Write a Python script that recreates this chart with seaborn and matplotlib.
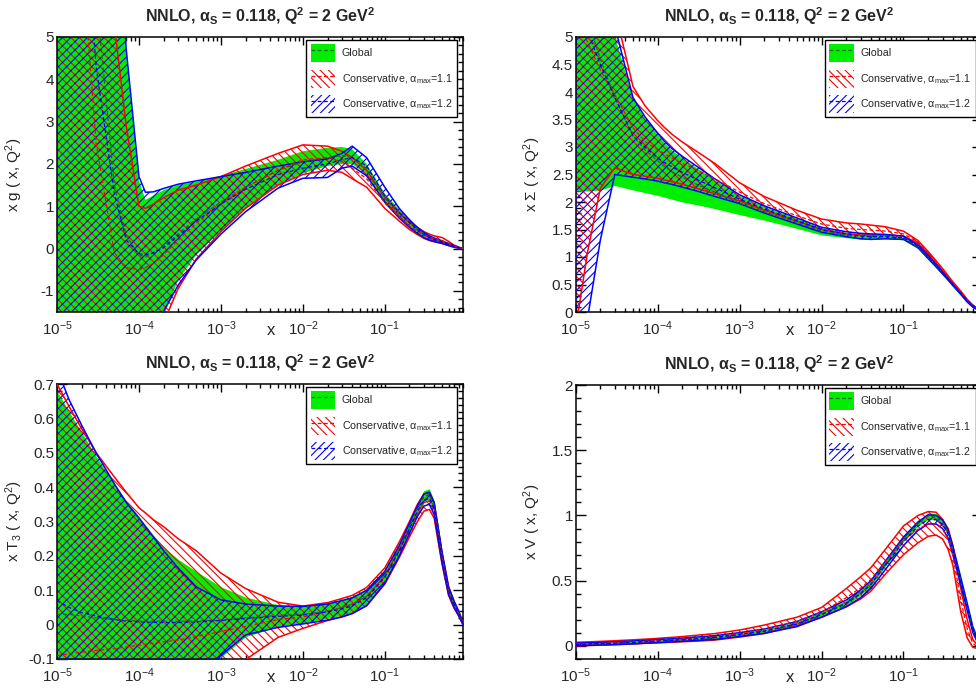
import matplotlib
matplotlib.use("Agg")
import matplotlib.pyplot as plt
import matplotlib.patches as mpatches
from matplotlib.lines import Line2D
from matplotlib.ticker import LogLocator, MultipleLocator, NullFormatter, FuncFormatter
import numpy as np
import seaborn as sns

# x grid shared by all panels
x = [1e-5, 1.4e-5, 2e-5, 3e-5, 5e-5, 7e-5, 1e-4, 1.2e-4, 1.5e-4, 2e-4, 3e-4, 5e-4,
     1e-3, 2e-3, 5e-3, 1e-2, 2e-2, 3e-2, 4e-2, 6e-2, 0.1, 0.15, 0.2, 0.25, 0.3,
     0.35, 0.4, 0.5, 0.6, 0.7, 0.8, 0.9]

# gluon
g_glob_up = [40, 35, 28, 18, 9.0, 4.6, 1.6, 1.15, 1.25, 1.38, 1.5, 1.58, 1.72, 1.88, 2.1, 2.3,
             2.38, 2.4, 2.35, 2.0, 1.3, 0.92, 0.7, 0.5, 0.38, 0.3, 0.25, 0.19, 0.13, 0.07, 0.03, 0.0]
g_glob_lo = [-20, -20, -20, -20, -15, -10, -6, -4.5, -3, -1.6, -0.75, -0.15, 0.42, 0.95, 1.5, 1.78,
             1.95, 2.0, 2.0, 1.75, 1.05, 0.72, 0.52, 0.38, 0.28, 0.22, 0.18, 0.13, 0.08, 0.04, 0.01, 0.0]
g_glob_c = [25, 18, 12, 6, 1.5, 0.3, -0.15, -0.2, -0.1, 0.05, 0.35, 0.7, 1.1, 1.45, 1.85, 2.05,
            2.15, 2.2, 2.15, 1.88, 1.18, 0.82, 0.61, 0.44, 0.33, 0.26, 0.21, 0.16, 0.1, 0.055, 0.02, 0.0]
g_red_up = [40, 30, 20, 12, 5.3, 2.9, 1.0, 0.95, 1.05, 1.2, 1.38, 1.5, 1.7, 1.95, 2.25, 2.45,
            2.42, 2.3, 2.15, 1.85, 1.2, 0.85, 0.62, 0.5, 0.4, 0.34, 0.3, 0.26, 0.17, 0.08, 0.03, 0.0]
g_red_lo = [-20, -20, -20, -20, -15, -10, -6, -4.5, -3, -1.75, -0.95, -0.25, 0.4, 0.95, 1.5, 1.75,
            1.85, 1.8, 1.65, 1.45, 0.95, 0.65, 0.45, 0.33, 0.24, 0.19, 0.16, 0.12, 0.07, 0.03, 0.01, 0.0]
g_red_c = [30, 15, 7, 2.5, -0.1, -0.45, -0.5, -0.45, -0.35, -0.15, 0.2, 0.6, 1.05, 1.45, 1.85, 2.1,
           2.15, 2.05, 1.9, 1.65, 1.08, 0.75, 0.53, 0.41, 0.31, 0.26, 0.23, 0.19, 0.12, 0.055, 0.02, 0.0]
g_blue_up = [40, 35, 28, 18, 9.0, 4.7, 1.7, 1.33, 1.34, 1.42, 1.52, 1.6, 1.7, 1.8, 1.95, 2.05,
             2.12, 2.25, 2.42, 2.15, 1.45, 0.95, 0.68, 0.5, 0.38, 0.3, 0.25, 0.18, 0.12, 0.07, 0.03, 0.0]
g_blue_lo = [-20, -20, -20, -20, -15, -10, -6, -4.5, -2.2, -1.48, -0.87, -0.27, 0.34, 0.87, 1.43, 1.66,
             1.68, 1.9, 1.95, 1.72, 1.1, 0.72, 0.5, 0.36, 0.26, 0.2, 0.17, 0.12, 0.07, 0.035, 0.01, 0.0]
g_blue_c = [30, 15, 9, 4.3, 1.3, 0.2, -0.12, -0.15, -0.1, 0.02, 0.3, 0.65, 1.05, 1.4, 1.75, 1.9,
            2.0, 2.1, 2.15, 1.95, 1.25, 0.85, 0.62, 0.45, 0.33, 0.26, 0.21, 0.15, 0.1, 0.055, 0.02, 0.0]

# singlet
s_glob_up = [9, 8, 7, 5.0, 3.88, 3.52, 3.22, 3.08, 2.94, 2.8, 2.62, 2.4, 2.12, 1.92, 1.7, 1.53,
             1.45, 1.42, 1.41, 1.4, 1.36, 1.2, 1.02, 0.86, 0.72, 0.6, 0.5, 0.34, 0.2, 0.11, 0.05, 0.02]
s_glob_lo = [2.2, 2.2, 2.22, 2.3, 2.22, 2.17, 2.12, 2.09, 2.05, 2.0, 1.95, 1.88, 1.77, 1.67, 1.52, 1.4,
             1.35, 1.33, 1.33, 1.34, 1.31, 1.15, 0.96, 0.81, 0.68, 0.57, 0.47, 0.31, 0.18, 0.09, 0.04, 0.01]
s_glob_c = [6, 5.3, 4.6, 3.9, 3.2, 2.95, 2.75, 2.65, 2.55, 2.45, 2.32, 2.18, 1.98, 1.82, 1.63, 1.48,
            1.4, 1.38, 1.37, 1.37, 1.34, 1.18, 0.99, 0.84, 0.7, 0.59, 0.49, 0.33, 0.19, 0.1, 0.045, 0.015]
s_red_up = [9, 8.5, 7.5, 5.5, 4.1, 3.75, 3.48, 3.36, 3.23, 3.09, 2.92, 2.7, 2.35, 2.1, 1.85, 1.69,
            1.62, 1.6, 1.58, 1.55, 1.47, 1.3, 1.1, 0.93, 0.79, 0.66, 0.55, 0.38, 0.23, 0.13, 0.06, 0.02]
s_red_lo = [-0.3, 1.1, 2.25, 2.62, 2.5, 2.47, 2.43, 2.4, 2.37, 2.32, 2.25, 2.15, 2.02, 1.85, 1.65, 1.5,
            1.42, 1.4, 1.4, 1.4, 1.38, 1.25, 1.05, 0.88, 0.74, 0.62, 0.51, 0.35, 0.2, 0.1, 0.05, 0.01]
s_red_c = [5.5, 4.9, 4.4, 3.95, 3.35, 3.1, 2.95, 2.88, 2.8, 2.7, 2.58, 2.42, 2.18, 1.97, 1.75, 1.6,
           1.52, 1.5, 1.49, 1.47, 1.42, 1.27, 1.08, 0.9, 0.76, 0.64, 0.53, 0.36, 0.21, 0.12, 0.055, 0.015]
s_blue_up = [9, 8.5, 7.5, 5.2, 3.9, 3.55, 3.25, 3.11, 2.97, 2.83, 2.65, 2.42, 2.13, 1.93, 1.71, 1.54,
             1.46, 1.43, 1.42, 1.41, 1.38, 1.22, 1.03, 0.87, 0.74, 0.61, 0.51, 0.35, 0.21, 0.12, 0.055, 0.02]
s_blue_lo = [-2.5, -0.1, 1.31, 2.5, 2.45, 2.42, 2.38, 2.35, 2.32, 2.27, 2.2, 2.1, 1.97, 1.8, 1.6, 1.45,
             1.37, 1.33, 1.32, 1.33, 1.32, 1.17, 0.97, 0.82, 0.69, 0.58, 0.48, 0.32, 0.18, 0.09, 0.04, 0.01]
s_blue_c = [5.8, 5.1, 4.5, 3.9, 3.2, 3.0, 2.8, 2.72, 2.64, 2.54, 2.41, 2.26, 2.05, 1.87, 1.66, 1.5,
            1.42, 1.38, 1.37, 1.37, 1.35, 1.2, 1.0, 0.85, 0.71, 0.6, 0.5, 0.33, 0.19, 0.1, 0.045, 0.015]

# triplet T3
t_glob_up = [0.68, 0.62, 0.56, 0.49, 0.41, 0.36, 0.315, 0.29, 0.26, 0.225, 0.19, 0.155, 0.11, 0.08, 0.058, 0.053,
             0.062, 0.073, 0.082, 0.104, 0.16, 0.235, 0.3, 0.355, 0.39, 0.395, 0.36, 0.21, 0.11, 0.07, 0.04, 0.006]
t_glob_lo = [-0.6, -0.55, -0.5, -0.45, -0.4, -0.36, -0.33, -0.31, -0.29, -0.25, -0.21, -0.16, -0.095, -0.035, -0.005, 0.005,
             0.018, 0.028, 0.037, 0.06, 0.125, 0.205, 0.27, 0.32, 0.355, 0.36, 0.325, 0.185, 0.09, 0.052, 0.028, 0.0]
t_glob_c = [0.03, 0.03, 0.025, 0.02, 0.015, 0.013, 0.011, 0.01, 0.01, 0.01, 0.01, 0.011, 0.013, 0.02, 0.027, 0.03,
            0.04, 0.05, 0.06, 0.082, 0.142, 0.22, 0.285, 0.338, 0.372, 0.378, 0.342, 0.198, 0.1, 0.061, 0.034, 0.003]
t_red_up = [0.7, 0.635, 0.57, 0.5, 0.43, 0.385, 0.34, 0.325, 0.305, 0.285, 0.25, 0.215, 0.15, 0.105, 0.065, 0.054,
            0.064, 0.076, 0.085, 0.108, 0.165, 0.24, 0.3, 0.35, 0.38, 0.385, 0.355, 0.21, 0.11, 0.068, 0.038, 0.005]
t_red_lo = [-0.6, -0.55, -0.5, -0.45, -0.4, -0.37, -0.34, -0.32, -0.3, -0.27, -0.24, -0.2, -0.16, -0.102, -0.037, -0.011,
            0.012, 0.024, 0.033, 0.055, 0.118, 0.195, 0.255, 0.3, 0.33, 0.335, 0.31, 0.175, 0.085, 0.048, 0.025, 0.0]
t_red_c = [-0.09, -0.085, -0.08, -0.075, -0.07, -0.065, -0.06, -0.057, -0.054, -0.05, -0.045, -0.035, -0.02, -0.005, 0.015, 0.022,
           0.038, 0.05, 0.059, 0.082, 0.142, 0.218, 0.278, 0.325, 0.355, 0.36, 0.333, 0.193, 0.098, 0.058, 0.032, 0.003]
t_blue_up = [0.745, 0.655, 0.58, 0.5, 0.41, 0.355, 0.31, 0.285, 0.255, 0.215, 0.165, 0.11, 0.072, 0.06, 0.054, 0.053,
             0.06, 0.07, 0.078, 0.1, 0.155, 0.23, 0.295, 0.345, 0.38, 0.385, 0.355, 0.21, 0.11, 0.068, 0.038, 0.005]
t_blue_lo = [-0.6, -0.55, -0.5, -0.45, -0.4, -0.36, -0.33, -0.31, -0.28, -0.24, -0.2, -0.15, -0.09, -0.03, -0.008, 0.002,
             0.013, 0.022, 0.032, 0.055, 0.12, 0.2, 0.265, 0.315, 0.345, 0.35, 0.32, 0.18, 0.088, 0.05, 0.025, 0.0]
t_blue_c = [0.07, 0.05, 0.035, 0.025, 0.015, 0.01, 0.008, 0.007, 0.007, 0.006, 0.006, 0.008, 0.012, 0.018, 0.024, 0.028,
            0.037, 0.046, 0.055, 0.078, 0.138, 0.215, 0.28, 0.33, 0.362, 0.368, 0.338, 0.195, 0.099, 0.059, 0.032, 0.003]

# valence V
v_glob_up = [0.02, 0.022, 0.025, 0.03, 0.036, 0.041, 0.047, 0.05, 0.053, 0.058, 0.066, 0.077, 0.1, 0.128, 0.185, 0.26,
             0.35, 0.43, 0.5, 0.65, 0.84, 0.96, 1.02, 1.015, 0.975, 0.895, 0.765, 0.52, 0.32, 0.145, 0.05, 0.01]
v_glob_lo = [0.004, 0.006, 0.009, 0.012, 0.018, 0.023, 0.027, 0.03, 0.033, 0.038, 0.044, 0.053, 0.076, 0.102, 0.155, 0.23,
             0.31, 0.39, 0.46, 0.61, 0.8, 0.92, 0.97, 0.965, 0.925, 0.845, 0.715, 0.48, 0.28, 0.115, 0.03, 0.0]
v_glob_c = [0.012, 0.014, 0.017, 0.021, 0.027, 0.032, 0.037, 0.04, 0.043, 0.048, 0.055, 0.065, 0.088, 0.115, 0.17, 0.245,
            0.33, 0.41, 0.48, 0.63, 0.82, 0.94, 0.995, 0.99, 0.95, 0.87, 0.74, 0.5, 0.3, 0.13, 0.04, 0.005]
v_red_up = [0.028, 0.031, 0.035, 0.04, 0.047, 0.052, 0.058, 0.062, 0.066, 0.072, 0.082, 0.095, 0.122, 0.16, 0.22, 0.295,
            0.44, 0.53, 0.6, 0.74, 0.92, 1.0, 1.03, 1.025, 0.97, 0.9, 0.77, 0.44, 0.2, 0.05, 0.005, 0.0]
v_red_lo = [0.0, 0.003, 0.006, 0.01, 0.015, 0.02, 0.024, 0.026, 0.029, 0.032, 0.037, 0.045, 0.068, 0.095, 0.155, 0.22,
            0.3, 0.36, 0.42, 0.55, 0.7, 0.79, 0.84, 0.85, 0.82, 0.74, 0.62, 0.26, 0.06, -0.01, -0.02, -0.01]
v_red_c = [0.014, 0.017, 0.02, 0.025, 0.031, 0.036, 0.041, 0.044, 0.047, 0.052, 0.06, 0.07, 0.095, 0.128, 0.188, 0.258,
           0.37, 0.445, 0.51, 0.645, 0.81, 0.895, 0.935, 0.935, 0.895, 0.82, 0.695, 0.35, 0.13, 0.02, -0.008, -0.005]
v_blue_up = [0.022, 0.024, 0.027, 0.032, 0.038, 0.043, 0.049, 0.052, 0.055, 0.06, 0.068, 0.079, 0.102, 0.13, 0.187, 0.262,
             0.352, 0.43, 0.5, 0.65, 0.835, 0.95, 1.005, 1.0, 0.965, 0.89, 0.765, 0.525, 0.325, 0.15, 0.055, 0.01]
v_blue_lo = [0.002, 0.004, 0.007, 0.01, 0.016, 0.021, 0.025, 0.028, 0.031, 0.036, 0.042, 0.05, 0.072, 0.097, 0.148, 0.22,
             0.3, 0.37, 0.44, 0.585, 0.77, 0.885, 0.935, 0.935, 0.9, 0.825, 0.7, 0.47, 0.27, 0.105, 0.025, 0.0]
v_blue_c = [0.012, 0.014, 0.017, 0.021, 0.027, 0.032, 0.037, 0.04, 0.043, 0.048, 0.055, 0.065, 0.087, 0.113, 0.167, 0.24,
            0.325, 0.4, 0.47, 0.618, 0.8, 0.917, 0.97, 0.968, 0.932, 0.857, 0.733, 0.497, 0.297, 0.128, 0.04, 0.005]

title = r"NNLO, $\mathbf{\alpha_{S}}$ = 0.118, Q$^{\mathbf{2}}$ = 2 GeV$^{\mathbf{2}}$"
labels = ["Global",
          r"Conservative, $\mathregular{\alpha_{max}}$=1.1",
          r"Conservative, $\mathregular{\alpha_{max}}$=1.2"]

GREEN = "#00ee00"
DKGREEN = "#1d6b1d"
RED = "#ff0000"
BLUE = "#0000ff"

sns.set_style("ticks")
plt.rcParams["font.family"] = ["Liberation Sans", "DejaVu Sans"]
plt.rcParams["mathtext.fontset"] = "custom"
plt.rcParams["mathtext.rm"] = "Liberation Sans"
plt.rcParams["mathtext.it"] = "Liberation Sans:italic"
plt.rcParams["mathtext.bf"] = "Liberation Sans:bold"
plt.rcParams["hatch.linewidth"] = 0.8
plt.rcParams["axes.linewidth"] = 1.1

W, H = 976, 689
fig = plt.figure(figsize=(W / 100, H / 100), dpi=100)


def box(left, top, right, bottom):
    return [left / W, 1 - bottom / H, (right - left) / W, (bottom - top) / H]


def yfmt(v, pos):
    v = round(v, 6)
    if v == 0:
        return "0"
    return f"{v:g}"


def panel(rect, up, lo, c, rup, rlo, rc, bup, blo, bc, ylim, major, minor, ylabel):
    ax = fig.add_axes(rect)
    ax.set_xscale("log")
    ax.fill_between(x, lo, up, facecolor=GREEN, linewidth=0, zorder=1)
    ax.fill_between(x, rlo, rup, facecolor="none", edgecolor=RED, hatch="\\\\\\\\", linewidth=0, zorder=2)
    ax.fill_between(x, blo, bup, facecolor="none", edgecolor=BLUE, hatch="////", linewidth=0, zorder=3)
    for ys in (rup, rlo):
        sns.lineplot(x=x, y=ys, ax=ax, color=RED, lw=1.1, estimator=None, sort=False, zorder=4)
    for ys in (bup, blo):
        sns.lineplot(x=x, y=ys, ax=ax, color=BLUE, lw=1.1, estimator=None, sort=False, zorder=5)
    sns.lineplot(x=x, y=c, ax=ax, color=DKGREEN, lw=0.9, ls=(0, (3, 2)), estimator=None, sort=False, zorder=6)
    sns.lineplot(x=x, y=rc, ax=ax, color=RED, lw=0.9, ls=(0, (3, 2)), estimator=None, sort=False, zorder=6)
    sns.lineplot(x=x, y=bc, ax=ax, color=BLUE, lw=0.9, ls=(0, (3, 2)), estimator=None, sort=False, zorder=6)

    ax.set_xlim(1e-5, 0.9)
    ax.set_ylim(*ylim)
    ax.xaxis.set_major_locator(LogLocator(base=10, numticks=10))
    ax.xaxis.set_minor_locator(LogLocator(base=10, subs=np.arange(2, 10), numticks=20))
    ax.xaxis.set_minor_formatter(NullFormatter())
    ax.yaxis.set_major_locator(MultipleLocator(major))
    ax.yaxis.set_minor_locator(MultipleLocator(minor))
    ax.yaxis.set_major_formatter(FuncFormatter(yfmt))
    ax.tick_params(which="both", direction="in", top=True, right=True, width=1, color="black")
    ax.tick_params(axis="x", which="major", length=6, pad=5, labelsize=11)
    ax.tick_params(axis="x", which="minor", length=3)
    ax.tick_params(axis="y", which="major", length=7, pad=2, labelsize=11)
    ax.tick_params(axis="y", which="minor", length=3.5)
    for s in ax.spines.values():
        s.set_color("black")

    ax.set_title(title, fontsize=11.5, fontweight="bold", pad=11)
    ax.set_ylabel(ylabel, fontsize=11)
    ax.yaxis.set_label_coords(-0.08, 0.5)
    ax.set_xlabel("x", fontsize=12)
    ax.xaxis.set_label_coords(0.528, -0.04)

    h_glob = (mpatches.Rectangle((0, 0), 1, 1, facecolor=GREEN, linewidth=0),
              Line2D([], [], color=DKGREEN, lw=0.9, ls=(0, (3, 2))))
    h_red = (mpatches.Rectangle((0, 0), 1, 1, facecolor="none", edgecolor=RED, hatch="\\\\\\\\", linewidth=0),
             Line2D([], [], color=RED, lw=0.9, ls=(0, (3, 2))))
    h_blue = (mpatches.Rectangle((0, 0), 1, 1, facecolor="none", edgecolor=BLUE, hatch="////", linewidth=0),
              Line2D([], [], color=BLUE, lw=0.9, ls=(0, (3, 2))))
    leg = ax.legend([h_glob, h_red, h_blue], labels, loc="upper right", bbox_to_anchor=(0.985, 0.99),
                    borderaxespad=0, fontsize=7.7, handlelength=2.3, handleheight=2.2, handletextpad=0.6,
                    borderpad=0.4, labelspacing=0.72, fancybox=False, framealpha=1, edgecolor="black")
    leg.get_frame().set_linewidth(1.0)
    leg.set_zorder(10)
    return ax


panel(box(57, 37, 463, 312), g_glob_up, g_glob_lo, g_glob_c, g_red_up, g_red_lo, g_red_c,
      g_blue_up, g_blue_lo, g_blue_c, (-1.5, 5), 1, 0.2, r"x g ( x, Q$^{\mathregular{2}}$)")
panel(box(575.7, 37, 981.7, 312), s_glob_up, s_glob_lo, s_glob_c, s_red_up, s_red_lo, s_red_c,
      s_blue_up, s_blue_lo, s_blue_c, (0, 5), 0.5, 0.1, r"x Σ ( x, Q$^{\mathregular{2}}$)")
panel(box(57, 384, 463, 659), t_glob_up, t_glob_lo, t_glob_c, t_red_up, t_red_lo, t_red_c,
      t_blue_up, t_blue_lo, t_blue_c, (-0.1, 0.7), 0.1, 0.02,
      r"x T$_{\mathregular{3}}$ ( x, Q$^{\mathregular{2}}$)")
panel(box(575.7, 385, 981.7, 659), v_glob_up, v_glob_lo, v_glob_c, v_red_up, v_red_lo, v_red_c,
      v_blue_up, v_blue_lo, v_blue_c, (-0.1, 2), 0.5, 0.1, r"x V ( x, Q$^{\mathregular{2}}$)")

fig.savefig("out.png", dpi=100)
